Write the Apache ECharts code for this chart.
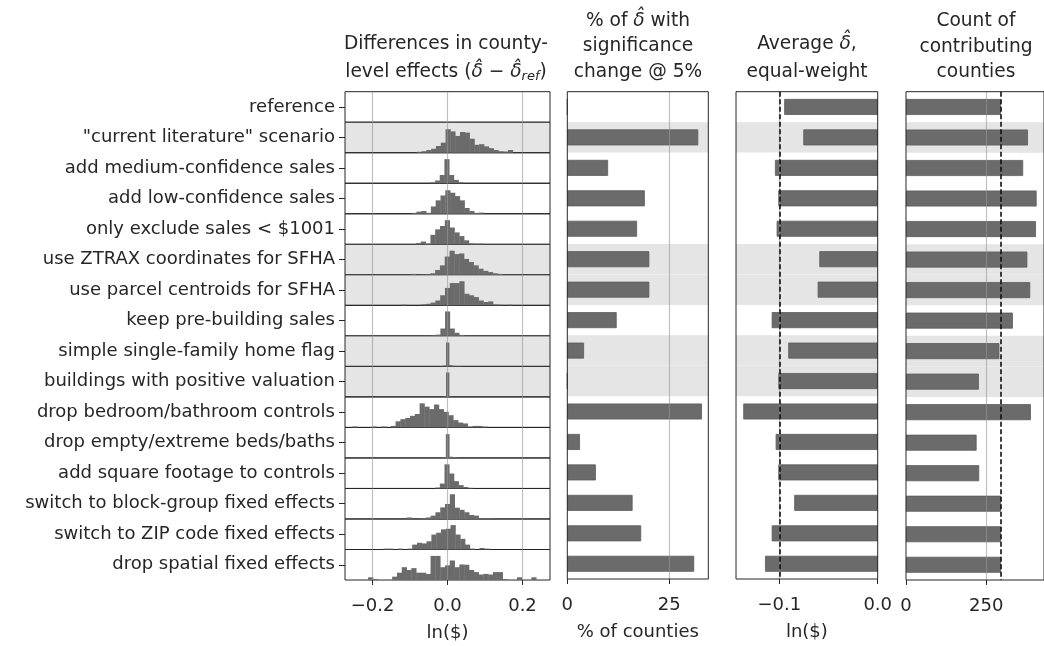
<!DOCTYPE html>
<html lang="en">
<head>
<meta charset="UTF-8">
<title>Robustness of county-level effects</title>
<script src="https://cdn.jsdelivr.net/npm/echarts@6/dist/echarts.min.js"></script>
<style>
    html, body { margin: 0; padding: 0; background: #fff; }
    #main { width: 1044px; height: 646px; }
</style>
</head>
<body>
<div id="main"></div>
<script>
// ---- data ----
const scenarios = [
    'reference',
    '"current literature" scenario',
    'add medium-confidence sales',
    'add low-confidence sales',
    'only exclude sales < $1001',
    'use ZTRAX coordinates for SFHA',
    'use parcel centroids for SFHA',
    'keep pre-building sales',
    'simple single-family home flag',
    'buildings with positive valuation',
    'drop bedroom/bathroom controls',
    'drop empty/extreme beds/baths',
    'add square footage to controls',
    'switch to block-group fixed effects',
    'switch to ZIP code fixed effects',
    'drop spatial fixed effects'
];
const shadedRows = [0, 1, 0, 0, 0, 1, 1, 0, 1, 1, 0, 0, 0, 0, 0, 0];

// % of counties whose delta-hat changes significance at 5%
const pctSigChange = [0, 32.1, 10.0, 19.0, 17.1, 20.1, 20.1, 12.1, 4.1, 0, 33.0, 3.1, 7.0, 16.0, 18.1, 31.1];
// equal-weight average delta-hat, ln($)
const avgDelta = [-0.095, -0.0756, -0.1044, -0.101, -0.1027, -0.0593, -0.061, -0.1077, -0.0909,
                  -0.101, -0.1366, -0.1037, -0.101, -0.0848, -0.1077, -0.1145];
// number of contributing counties
const countyCount = [296, 380, 365, 407, 405, 378, 387, 333, 291, 227, 389, 220, 228, 296, 296, 296];

// histograms of (delta-hat - delta_ref): first bin edge, bin width, bar heights (% of row height)
const histStart = [0, -0.082, -0.0457, -0.0955, -0.084, -0.097, -0.122, -0.044, -0.02, -0.012,
                   -0.2536, -0.0225, -0.033, -0.109, -0.171, -0.2116];
const histBin = [0.01, 0.0128, 0.0125, 0.0128, 0.0128, 0.0128, 0.0128, 0.0125, 0.008, 0.008,
                 0.0128, 0.009, 0.0125, 0.0128, 0.0128, 0.0128];
const histHeights = [
    [],
    [3, 5, 9, 13, 22, 33, 77, 70, 55, 68, 66, 46, 26, 28, 21, 15, 9, 5, 4, 9],
    [3, 9, 27, 79, 27, 11, 3],
    [3, 7, 9, 3, 24, 44, 60, 77, 69, 58, 44, 19, 9, 3, 4],
    [4, 9, 2, 31, 49, 60, 79, 55, 39, 27, 13, 3, 2, 2],
    [3, 0, 1, 2, 5, 16, 31, 60, 79, 68, 70, 52, 42, 31, 20, 13, 9, 5, 3],
    [2, 0, 0, 0, 3, 5, 9, 16, 33, 57, 73, 73, 79, 38, 33, 27, 16, 11, 13, 3, 2, 0, 2],
    [2, 4, 24, 80, 24, 10, 3],
    [1, 3, 78, 4, 2, 1, 1],
    [1, 80, 1],
    [3, 0, 0, 0, 3, 0, 3, 0, 5, 20, 27, 31, 38, 44, 79, 68, 60, 75, 60, 51, 40, 24, 16, 13, 3, 5, 5, 3],
    [1, 3, 78, 4, 3, 1],
    [3, 16, 79, 49, 24, 11, 5, 2],
    [5, 0, 0, 3, 5, 11, 22, 38, 49, 81, 37, 30, 22, 13, 11, 3, 3, 2],
    [3, 3, 0, 3, 0, 3, 16, 22, 20, 27, 49, 55, 66, 68, 80, 49, 35, 16, 3, 0, 5, 3],
    [9, 3, 0, 0, 0, 11, 24, 42, 33, 39, 24, 24, 20, 79, 79, 42, 48, 64, 42, 51, 50, 33, 26, 18, 20, 18, 26, 26, 3, 0, 0, 9, 0, 0, 9]
];

const diffTicks = [-0.2, 0, 0.2];
const pctTicks = [0, 25];
const avgTicks = [-0.1, 0];
const countTicks = [0, 250];

// ---- layout / style ----
const FONT = 'DejaVu Sans';
const FS = 18;
const TITLE_FS = 18.6;
const INK = '#262626';
const BAR = '#6b6b6b';
const BAND = '#e5e5e5';
const GRIDLINE = 'rgba(150,150,150,0.6)';

const top0 = 91.7, rowH = 30.52, plotH = rowH * 16;
const diffLim = 0.2733, pctMax = 34.56, avgMin = -0.144, countMax = 430;

const fmt1 = v => (v < 0 ? '\u2212' : '') + Math.abs(v).toFixed(1);
const fmt0 = v => String(Math.round(v));

const chart = echarts.init(document.getElementById('main'), null, { renderer: 'canvas' });

const grids = [], xAxes = [], yAxes = [], series = [];

function renderBin(params, api) {
    const a = api.coord([api.value(0), api.value(2)]);
    const b = api.coord([api.value(1), 0]);
    // a hair of overlap so neighbouring bins do not show seams
    return {
        type: 'rect',
        shape: { x: a[0], y: a[1], width: b[0] - a[0] + 0.4, height: b[1] - a[1] },
        style: { fill: BAR }
    };
}

function vLines(values, color, dashed) {
    return {
        silent: true,
        symbol: 'none',
        animation: false,
        label: { show: false },
        lineStyle: dashed
            ? { color: '#111', width: 1.6, type: [5, 2.5] }
            : { color: color, width: 1.2, type: 'solid' },
        data: values.map(v => ({ xAxis: v }))
    };
}

// panel 1: one small histogram per row
for (let i = 0; i < 16; i++) {
    const last = i === 15;
    grids.push({
        left: 345, width: 205, top: top0 + i * rowH, height: rowH,
        show: true, borderColor: INK, borderWidth: 1,
        backgroundColor: shadedRows[i] ? BAND : 'transparent'
    });
    xAxes.push({
        gridIndex: i, type: 'value', min: -diffLim, max: diffLim,
        axisLine: { show: false },
        splitLine: { show: false },
        axisTick: { show: last, customValues: diffTicks, length: 5, lineStyle: { color: INK } },
        axisLabel: { show: last, customValues: diffTicks, formatter: fmt1, margin: 17,
                     fontFamily: FONT, fontSize: FS, color: INK },
        name: last ? 'ln($)' : '', nameLocation: 'middle', nameGap: 44,
        nameTextStyle: { fontFamily: FONT, fontSize: FS, color: INK }
    });
    yAxes.push({ gridIndex: i, type: 'value', min: 0, max: 100, show: false });
    const bins = [];
    histHeights[i].forEach((h, k) => {
        if (h > 0) {
            const x0 = histStart[i] + k * histBin[i];
            bins.push([x0, x0 + histBin[i], h]);
        }
    });
    series.push({
        type: 'custom', xAxisIndex: i, yAxisIndex: i,
        renderItem: renderBin, encode: { x: [0, 1], y: 2 },
        data: bins, silent: true, z: 2,
        markLine: vLines(diffTicks, GRIDLINE, false)
    });
}

// row labels on the left of panel 1
grids.push({ left: 345, width: 205, top: top0, height: plotH, show: false });
xAxes.push({ gridIndex: 16, type: 'value', min: 0, max: 1, show: false });
yAxes.push({
    gridIndex: 16, type: 'category', inverse: true, data: scenarios,
    axisLine: { show: false },
    axisTick: { show: true, alignWithLabel: true, length: 6, lineStyle: { color: INK } },
    axisLabel: { fontFamily: FONT, fontSize: FS, color: INK, margin: 10 },
    splitLine: { show: false }
});

// panels 2-4: horizontal bars with shaded rows
function barPanel(left, width, min, max, ticks, fmt, name, values, marks) {
    const g = grids.length;
    grids.push({ left: left, width: width, top: top0, height: plotH,
                 show: true, borderColor: INK, borderWidth: 1, z: 6 });
    xAxes.push({
        gridIndex: g, type: 'value', min: min, max: max,
        axisLine: { show: false }, splitLine: { show: false },
        axisTick: { show: true, customValues: ticks, length: 5, lineStyle: { color: INK } },
        axisLabel: { customValues: ticks, formatter: fmt, margin: 17,
                     fontFamily: FONT, fontSize: FS, color: INK },
        name: name, nameLocation: 'middle', nameGap: 44,
        nameTextStyle: { fontFamily: FONT, fontSize: FS, color: INK }
    });
    const ya = yAxes.length;
    const rowIdx = scenarios.map((s, i) => i);
    yAxes.push({ gridIndex: g, type: 'category', inverse: true, data: rowIdx, show: false });
    yAxes.push({ gridIndex: g, type: 'category', inverse: true, data: rowIdx, show: false });
    const xa = xAxes.length - 1;
    series.push({
        type: 'bar', xAxisIndex: xa, yAxisIndex: ya + 1, silent: true, z: 1,
        barWidth: '100%', itemStyle: { color: BAND },
        data: shadedRows.map(s => (s ? (min < 0 ? min : max) : '-'))
    });
    series.push({
        type: 'bar', xAxisIndex: xa, yAxisIndex: ya, silent: true, z: 2,
        barWidth: 16, itemStyle: { color: BAR, borderColor: '#5c5c5c', borderWidth: 0.8 },
        data: values,
        markLine: marks
    });
}

barPanel(567.3, 141, 0, pctMax, pctTicks, fmt0, '% of counties', pctSigChange,
         vLines([25], GRIDLINE, false));
barPanel(736, 141.7, avgMin, 0, avgTicks, fmt1, 'ln($)', avgDelta,
         vLines([-0.1], GRIDLINE, false));
barPanel(906, 141.5, 0, countMax, countTicks, fmt0, '', countyCount,
         vLines([250], GRIDLINE, false));

// dashed reference lines (value of the reference row)
series.push({
    type: 'line', xAxisIndex: 18, yAxisIndex: 20, data: [], silent: true,
    markLine: vLines([avgDelta[0]], null, true)
});
series.push({
    type: 'line', xAxisIndex: 19, yAxisIndex: 22, data: [], silent: true,
    markLine: vLines([countyCount[0]], null, true)
});

// panel titles
const rich = {
    d: { fontFamily: FONT, fontSize: TITLE_FS, fontStyle: 'italic', fill: INK },
    s: { fontFamily: FONT, fontSize: 13, fontStyle: 'italic', fill: INK, padding: [9, 0, 0, 0] }
};
const titles = [
    { x: 446, ys: [44, 72.5], lines: ['Differences in county-', 'level effects ({d|\u03b4\u0302} \u2212 {d|\u03b4\u0302}{s|ref})'] },
    { x: 638, ys: [21, 46.5, 72.5], lines: ['% of {d|\u03b4\u0302} with', 'significance', 'change @ 5%'] },
    { x: 807, ys: [44, 72.5], lines: ['Average {d|\u03b4\u0302},', 'equal-weight'] },
    { x: 976, ys: [21.5, 47, 72.5], lines: ['Count of', 'contributing', 'counties'] }
];
const graphic = [];
titles.forEach(t => {
    t.lines.forEach((line, j) => {
        graphic.push({
            type: 'text', x: t.x, y: t.ys[j], silent: true,
            style: {
                text: line, fontFamily: FONT, fontSize: TITLE_FS, fill: INK,
                align: 'center', verticalAlign: 'middle', rich: rich
            }
        });
    });
});

chart.setOption({
    animation: false,
    backgroundColor: '#fff',
    textStyle: { fontFamily: FONT },
    grid: grids,
    xAxis: xAxes,
    yAxis: yAxes,
    series: series,
    graphic: graphic
});
</script>
</body>
</html>
